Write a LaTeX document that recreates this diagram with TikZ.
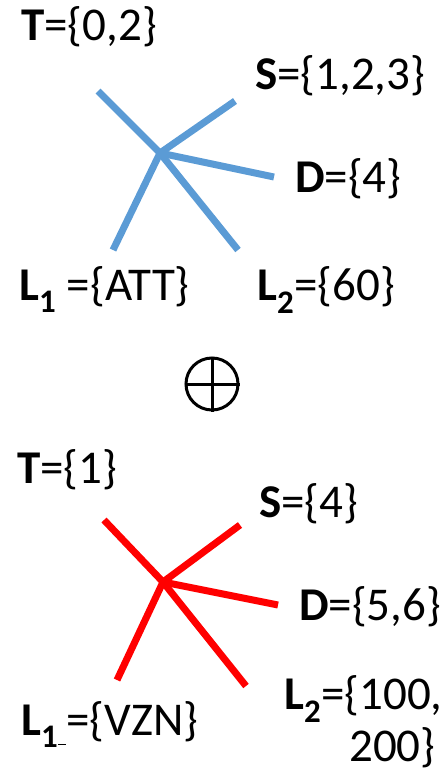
\documentclass[tikz,border=0pt]{standalone}
\usepackage{fontspec}
\setmainfont{Carlito}
\begin{document}
\begin{tikzpicture}[x=1pt,y=-1pt,
  lbl/.style={anchor=base west,inner sep=0pt,font=\fontsize{47}{54}\selectfont},
  blueedge/.style={draw=bluec,line width=7pt,line cap=butt},
  rededge/.style={draw=red,line width=7pt,line cap=butt}]
\definecolor{bluec}{HTML}{5B9BD5}
\useasboundingbox (0,0) rectangle (446,773);
% top star
\coordinate (c1) at (160,153);
\coordinate (t1) at (98,91);
\coordinate (s1) at (235,101);
\coordinate (d1) at (274,177);
\coordinate (la1) at (113,250);
\coordinate (lb1) at (238,250);
\foreach \e in {t1,s1,d1,la1,lb1} \draw[blueedge] (c1) -- (\e);
\node[lbl] (T1) at (21,41) {\textbf{T}=\{0,2\}};
\node[lbl] (S1) at (255,90) {\textbf{S}=\{1,2,3\}};
\node[lbl] (D1) at (295,192) {\textbf{D}=\{4\}};
\node[lbl] (L11) at (19,300) {\textbf{L\textsubscript{1}} =\{ATT\}};
\node[lbl] (L21) at (257,300) {\textbf{L\textsubscript{2}}=\{60\}};
% oplus
\node[draw,circle,line width=3pt,minimum size=52pt,inner sep=0pt] (op) at (212,384) {};
\draw[line width=3pt] (op.north) -- (op.south) (op.west) -- (op.east);
% bottom star
\coordinate (c2) at (163,582);
\coordinate (t2) at (104,520);
\coordinate (s2) at (240,525);
\coordinate (d2) at (278,605);
\coordinate (la2) at (117,680);
\coordinate (lb2) at (246,686);
\foreach \e in {t2,s2,d2,la2,lb2} \draw[rededge] (c2) -- (\e);
\node[lbl] (T2) at (17,483) {\textbf{T}=\{1\}};
\node[lbl] (S2) at (259,517) {\textbf{S}=\{4\}};
\node[lbl] (D2) at (299,620) {\textbf{D}=\{5,6\}};
\node[lbl] (L12) at (21,735) {\textbf{L\textsubscript{1}}\rule[-10pt]{8pt}{1.5pt}=\{VZN\}};
\node[lbl] (L22) at (284,709) {\textbf{L\textsubscript{2}}=\{100,};
\node[lbl] (L22b) at (349,761) {200\}};
\end{tikzpicture}
\end{document}
